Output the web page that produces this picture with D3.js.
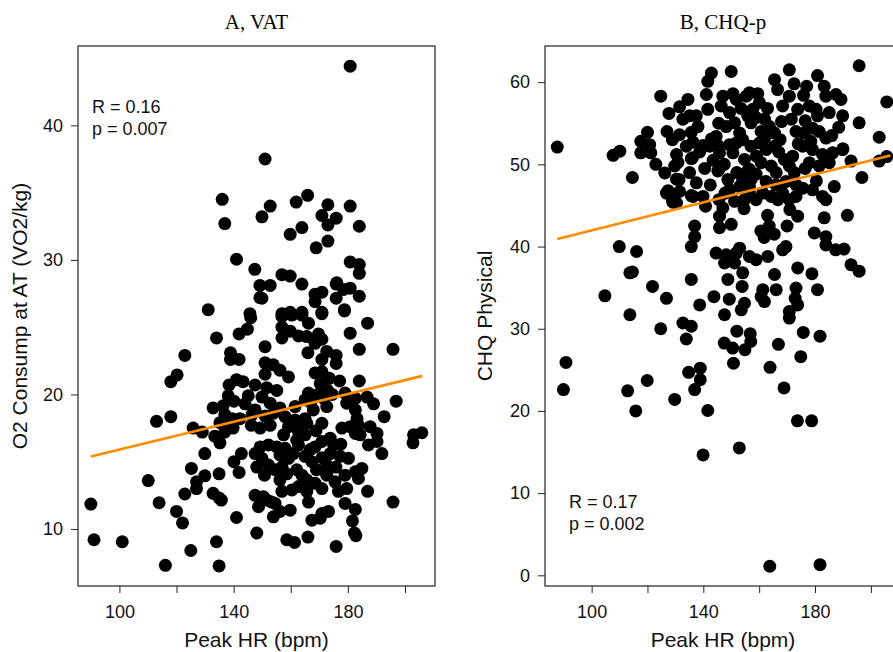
<!DOCTYPE html>
<html>
<head>
<meta charset="utf-8">
<script src="https://cdn.jsdelivr.net/npm/d3@7"></script>
<style>
  body { margin: 0; background: white; }
  svg { display: block; }
</style>
</head>
<body>
<script>
// ---- data: [peak HR, value] ----
var vatPoints = [
  [180.8,44.4],[151.0,37.5],[136.0,34.5],[136.9,32.7],[141.0,30.05],[147.4,29.3],[149.9,33.2],[149.2,28.1],[149.2,27.2],[131.1,26.3],[145.7,26.0],
  [165.9,34.8],[152.8,34.0],[161.9,34.3],[173.0,34.1],[180.8,34.0],[170.9,33.3],[175.9,33.1],[173.0,32.6],[184.0,32.5],[163.9,32.4],[159.8,31.9],
  [173.0,31.4],[168.9,30.9],[180.8,29.85],[184.0,29.65],[184.0,29.0],[156.9,28.9],[159.8,28.8],[163.9,28.2],[152.8,28.1],[175.9,28.2],[180.8,27.9],
  [168.5,27.45],[170.9,27.6],[175.9,27.15],[184.0,27.3],[149.9,27.15],[178.8,26.3],[170.9,26.1],[156.9,26.0],[159.8,26.1],[163.9,26.1],[168.5,26.9],
  [146.0,25.7],[144.8,24.85],[141.9,24.5],[134.0,24.2],[122.9,22.9],[138.9,23.1],[138.9,22.6],[141.9,22.6],[120.2,21.45],[118.0,20.95],[138.4,20.7],
  [141.0,21.1],[143.3,20.95],[138.1,19.9],[140.1,19.5],[145.1,19.9],[132.8,19.0],[136.3,19.15],[136.9,18.5],[139.5,18.2],[142.2,18.2],[146.4,18.5],
  [135.2,17.9],[138.1,17.7],[113.0,18.0],[118.0,18.35],[125.8,17.5],[129.0,17.2],[133.4,16.9],[136.9,17.2],[139.8,17.5],[146.2,17.7],[135.2,16.4],
  [129.9,15.6],[142.7,15.6],[140.1,15.0],[125.2,14.5],[141.9,14.2],[134.9,14.1],[129.9,13.95],[110.1,13.6],[127.0,13.5],[127.0,13.0],[132.8,12.65],
  [135.7,12.15],[134.9,12.3],[122.9,12.6],[113.9,11.95],[90.0,11.85],[120.0,11.3],[122.1,10.45],[141.0,10.85],[91.1,9.2],[101.0,9.05],[134.0,9.05],
  [125.0,8.4],[116.1,7.3],[134.9,7.25],
  [156.9,25.8],[160.4,25.9],[163.9,25.9],[170.9,26.0],[178.8,26.2],[156.9,25.0],[166.2,25.3],[159.8,24.7],[156.9,24.2],[162.7,24.35],[165.6,24.3],
  [169.7,24.5],[170.9,24.1],[168.5,23.8],[186.9,25.3],[180.8,24.55],[151.0,23.55],[184.0,23.35],[195.8,23.35],[166.0,23.1],[172.6,23.2],[175.9,22.9],
  [170.9,22.6],[175.9,22.3],[151.0,22.35],[153.9,22.2],[151.0,21.5],[156.2,21.8],[159.2,21.3],[168.5,21.6],[170.9,21.7],[173.5,21.2],[170.3,20.8],
  [172.9,20.3],[169.5,20.0],[171.5,19.7],[174.5,20.0],[177.1,21.0],[184.0,21.0],[179.0,20.1],[147.5,20.7],[151.6,20.5],[155.1,20.3],[166.2,20.1],
  [165.0,19.6],[149.9,19.8],[152.8,19.35],[156.2,19.0],[161.5,19.1],[182.6,19.7],[186.7,19.8],[189.0,19.3],[196.9,19.5],[182.6,18.85],[192.7,18.35],
  [172.6,19.1],[167.9,18.85],[147.5,18.85],[151.0,18.4],[158.0,18.35],[161.5,18.1],[165.0,18.2],[160.4,17.7],[163.9,17.6],[165.6,17.85],[170.9,17.85],
  [183.2,18.2],[183.7,17.7],[177.9,17.5],[180.8,17.6],[182.6,17.1],[184.3,17.0],[187.8,17.6],[190.2,17.1],[190.2,16.5],[187.2,16.25],[203.0,17.0],
  [205.9,17.15],[202.8,16.4],[191.9,15.6],[152.8,17.7],[149.3,17.5],[159.2,17.6],[162.7,17.2],[162.1,16.6],[165.0,17.0],[162.7,16.25],[173.8,16.75],
  [170.9,16.5],[175.0,16.25],[168.5,16.1],[166.8,15.9],[149.3,16.1],[152.2,16.25],[155.1,16.1],[158.0,16.0],[160.9,15.6],[159.2,15.25],[156.2,15.5],
  [165.0,15.4],[167.4,15.0],[173.8,15.6],[172.6,14.75],[177.3,15.4],[180.2,15.25],[147.5,15.6],[149.9,15.25],[148.1,14.6],[152.2,14.75],[154.5,14.4],
  [156.9,14.6],[158.6,14.1],[162.1,14.4],[163.9,14.0],[165.6,13.65],[166.8,13.4],[172.6,14.0],[175.5,13.5],[179.0,14.0],[182.6,14.25],[184.9,14.5],
  [183.7,13.75],[179.6,13.0],[176.7,12.8],[170.9,13.0],[168.5,13.4],[186.9,12.8],[156.2,13.65],[156.9,12.8],[160.4,12.9],[162.7,13.15],[147.5,12.5],
  [150.4,12.4],[153.3,12.0],[148.7,11.65],[151.6,12.15],[154.5,11.9],[153.9,10.9],[156.2,11.3],[159.8,11.4],[165.6,12.8],[166.2,12.0],[167.4,10.65],
  [170.3,10.8],[173.2,11.3],[170.9,11.15],[179.0,11.9],[182.6,11.45],[181.6,10.6],[182.3,9.7],[182.8,9.5],[195.8,12.0],[148.1,9.7],[158.6,9.2],
  [161.3,9.0],[166.0,9.4],[175.9,8.7],[179.6,19.35],[176.1,28.3],[178.5,27.8],
  [169.0,14.4],[171.0,15.3],[175.8,14.6],[177.5,16.3],[168.8,17.3],[167.0,19.4],[157.5,17.0],[154.0,18.6],[144.0,19.3],[150.8,14.0]
];

var chqPoints = [
  [87.7,52.1],[107.7,51.1],[110.1,51.6],[114.6,48.4],[117.6,52.8],[120.0,53.9],[117.6,51.4],[120.8,52.4],[121.2,51.4],[123.0,50.0],[126.2,48.95],
  [124.75,58.3],[127.7,56.2],[127.0,54.0],[128.9,53.0],[130.4,51.2],[129.75,49.8],[131.3,48.15],[126.8,46.5],[128.9,45.7],[131.5,46.7],[130.4,45.3],
  [131.5,57.0],[134.5,57.9],[132.7,55.5],[135.1,55.9],[137.5,55.9],[138.1,54.6],[133.9,52.2],[136.1,50.8],[135.1,49.0],[137.5,47.75],[136.3,46.1],
  [139.9,46.1],[140.8,44.9],[135.7,53.9],[131.5,53.6],[136.3,52.7],[139.9,52.3],[142.9,53.1],[145.2,52.3],[130.9,50.25],[135.7,50.7],[138.7,51.5],
  [130.4,48.2],[127.4,46.8],[129.1,45.4],[135.7,46.2],[145.2,49.2],[136.9,42.5],[136.9,41.2],[135.7,40.0],
  [142.9,61.1],[141.6,60.1],[141.1,58.5],[141.6,56.7],[144.6,53.4],[142.25,52.2],[145.8,51.4],[145.6,49.4],[149.4,52.4],[150.6,51.4],[148.8,48.15],
  [149.4,46.9],[151.2,45.5],[145.6,45.7],[145.8,43.7],[145.8,42.3],[150.0,42.7],[147.0,44.7],[150.0,61.3],[150.6,58.6],
  [147.0,58.3],[146.4,57.1],[149.4,56.3],[151.2,55.05],[148.2,54.6],[151.8,57.9],[153.0,53.8],[154.1,53.0],[151.8,52.6],
  [154.75,50.6],[155.9,49.2],[157.1,48.15],[154.1,48.15],[154.75,45.7],[153.0,47.3],[156.5,46.5],
  [155.4,58.3],[156.5,58.7],[159.5,58.6],[160.1,57.5],[157.7,56.7],[155.9,55.9],[158.9,55.7],[161.9,55.5],[157.1,55.05],[160.7,54.0],[163.7,54.6],
  [165.5,53.8],[157.1,52.2],[160.1,52.6],[162.5,51.8],[165.5,52.2],[156.5,49.4],[160.7,50.2],[164.3,49.8],[158.9,48.8],[162.5,47.9],[156.5,47.3],
  [161.3,46.5],[164.3,46.1],[158.9,45.7],[166.7,45.7],[168.4,46.5],[170.8,45.7],[173.2,46.1],[166.1,49.0],[169.0,50.6],[172.0,51.0],[170.8,49.8],
  [172.6,49.0],[169.6,47.9],[173.2,47.5],
  [165.5,60.3],[166.6,59.1],[170.8,61.5],[170.8,58.3],[175.9,58.4],[168.4,57.1],[173.8,56.7],[178.0,57.1],[180.4,56.7],[180.9,60.8],[183.3,59.5],
  [183.9,58.3],[187.5,58.5],[189.3,57.9],[189.9,55.9],[185.1,56.3],[180.9,55.9],
  [189.9,51.8],[192.9,50.4],[196.8,48.4],[195.8,55.05],[203.0,53.3],[205.7,57.6],[203.0,50.4],[205.7,50.95],[195.8,62.0],[190.0,51.9],
  [191.6,43.8],[192.9,37.8],[195.8,37.0],[187.4,39.6],[190.4,39.7],
  [173.2,54.0],[176.2,53.8],[179.1,54.4],[181.5,54.0],[183.9,53.2],[175.6,52.2],[179.1,51.8],[182.7,51.2],[186.3,51.4],[178.0,50.2],[181.5,49.8],
  [185.1,50.2],[186.9,47.3],[182.7,46.1],[179.1,46.9],[175.6,47.1],[183.9,45.7],[183.3,43.5],[179.75,41.65],[183.9,41.2],[183.9,40.2],[173.8,43.7],
  [170.0,42.5],[169.6,40.0],[168.4,39.6],[173.8,37.4],[178.9,36.7],[180.9,34.75],[173.2,34.95],[172.9,33.7],[173.8,32.9],[170.8,32.1],[170.8,31.3],
  [165.5,36.6],[166.1,34.75],[161.3,34.75],[161.9,33.3],[160.7,33.9],
  [163.0,43.8],[163.6,42.5],[165.4,41.5],[161.8,41.1],[160.6,41.9],[154.6,44.6],[149.3,33.6],
  [144.6,39.2],[148.2,39.0],[151.8,39.2],[153.0,39.8],[147.6,38.0],[151.2,38.0],[148.8,36.0],[154.1,36.8],[156.5,38.8],[158.9,38.4],[163.1,38.8],
  [153.9,35.15],[154.75,33.1],[153.6,32.3],[147.6,31.7],[143.8,33.9],[135.7,36.0],[138.7,32.9],
  [109.9,40.0],[116.1,39.4],[113.7,36.8],[114.6,36.9],[121.8,35.15],[126.8,33.7],[104.75,34.0],[113.7,31.7],[124.75,30.0],
  [132.7,30.7],[135.7,30.3],[133.9,28.75],[90.8,25.9],[89.9,22.6],[112.9,22.45],[119.9,23.7],[115.8,20.0],[134.75,24.7],[138.9,25.2],[138.9,23.8],
  [136.9,22.6],[129.75,21.4],[141.6,20.05],[139.9,14.65],
  [152.0,29.7],[156.8,29.4],[157.0,28.45],[147.5,28.25],[150.5,27.65],[154.9,27.45],[150.8,25.8],[166.9,28.1],[163.9,25.3],[175.8,29.55],[181.8,29.1],
  [174.9,26.6],[168.9,22.8],[173.7,18.8],[178.8,18.8],[152.9,15.5],[163.8,1.1],[181.8,1.3],
  [162.0,53.2],[167.5,53.0],[168.0,55.2],[171.5,55.5],[176.5,55.3],[178.5,52.8],[174.0,52.5],[167.0,51.5],[163.0,56.8],[153.5,56.8],[145.5,55.0],
  [143.5,50.5],[140.5,49.5],[147.5,50.0],[152.0,49.0],[159.0,51.0],[176.5,49.5],[180.5,48.0],[186.0,53.5],[188.5,54.5],[177.0,59.5],[172.5,59.8],
  [142.5,47.5],[147.8,46.5],[166.0,47.5],[171.0,44.5]
];

// fitted lines, endpoints
var vatFit = [[90.0, 15.38], [206.1, 21.38]];
var chqFit = [[87.7, 40.93], [207.0, 51.07]];

var vatStats = ['R = 0.16', 'p = 0.007'];
var chqStats = ['R = 0.17', 'p = 0.002'];

var hrTicks = [100, 120, 140, 160, 180, 200];
var hrLabels = [100, 140, 180];
var vatTicks = [10, 20, 30, 40];
var chqTicks = [0, 10, 20, 30, 40, 50, 60];

var svgWidth = 893, svgHeight = 652;
var sansFont = '"Liberation Sans", Arial, sans-serif';
var serifFont = '"Liberation Serif", "Times New Roman", serif';
var lineColor = '#ff8c00';

var svg = d3.select('body').append('svg')
  .attr('width', svgWidth)
  .attr('height', svgHeight);

function drawPanel(p) {
  var g = svg.append('g');

  var x = d3.scaleLinear().domain(p.xDomain).range([p.left, p.right]);
  var y = d3.scaleLinear().domain(p.yDomain).range([p.bottom, p.top]);

  // bottom axis, only some ticks labelled
  var xAxis = d3.axisBottom(x)
    .tickValues(hrTicks)
    .tickSize(7)
    .tickPadding(12)
    .tickFormat(function(d) { return hrLabels.includes(d) ? d : ''; });
  g.append('g')
    .attr('transform', 'translate(0,' + p.bottom + ')')
    .call(xAxis)
    .call(function(a) { a.select('.domain').remove(); });

  var yAxis = d3.axisLeft(y)
    .tickValues(p.yTicks)
    .tickSize(7)
    .tickPadding(8);
  g.append('g')
    .attr('transform', 'translate(' + p.left + ',0)')
    .call(yAxis)
    .call(function(a) { a.select('.domain').remove(); });

  g.selectAll('.tick line').attr('stroke', '#222');
  g.selectAll('.tick text')
    .attr('fill', '#111')
    .style('font-family', sansFont)
    .style('font-size', '18px');

  // frame
  g.append('rect')
    .attr('x', p.left)
    .attr('y', p.top)
    .attr('width', p.right - p.left)
    .attr('height', p.bottom - p.top)
    .attr('fill', 'none')
    .attr('stroke', '#222')
    .attr('stroke-width', 1.2);

  // points
  g.selectAll('.pt')
    .data(p.points)
    .enter()
    .append('circle')
    .attr('cx', function(d) { return x(d[0]); })
    .attr('cy', function(d) { return y(d[1]); })
    .attr('r', 6.5)
    .attr('fill', 'black');

  // regression line
  g.append('path')
    .datum(p.fit)
    .attr('d', d3.line().x(function(d) { return x(d[0]); }).y(function(d) { return y(d[1]); }))
    .attr('stroke', lineColor)
    .attr('stroke-width', 2.6)
    .attr('fill', 'none');

  // stats
  g.selectAll('.stat')
    .data(p.stats)
    .enter()
    .append('text')
    .text(function(d) { return d; })
    .attr('x', p.statX)
    .attr('y', function(d, i) { return p.statY + i * 22.6; })
    .attr('fill', '#111')
    .style('font-family', sansFont)
    .style('font-size', '18px');

  // titles
  g.append('text')
    .text(p.title)
    .attr('x', (p.left + p.right) / 2)
    .attr('y', 29)
    .attr('text-anchor', 'middle')
    .style('font-family', serifFont)
    .style('font-size', '21px');

  g.append('text')
    .text('Peak HR (bpm)')
    .attr('x', (p.left + p.right) / 2)
    .attr('y', 647)
    .attr('text-anchor', 'middle')
    .attr('fill', '#111')
    .style('font-family', sansFont)
    .style('font-size', '21px');

  g.append('text')
    .text(p.yTitle)
    .attr('transform', 'translate(' + p.yTitleX + ',' + (p.top + p.bottom) / 2 + ')rotate(-90)')
    .attr('text-anchor', 'middle')
    .attr('fill', '#111')
    .style('font-family', sansFont)
    .style('font-size', '21px');
}

drawPanel({
  left: 78, right: 435, top: 46, bottom: 586,
  xDomain: [85.5, 210.5], yDomain: [5.76, 45.9],
  yTicks: vatTicks, points: vatPoints, fit: vatFit,
  stats: vatStats, statX: 92, statY: 112.7,
  title: 'A, VAT', yTitle: 'O2 Consump at AT (VO2/kg)', yTitleX: 27
});

drawPanel({
  left: 545, right: 901, top: 46, bottom: 586,
  xDomain: [83.3, 210.8], yDomain: [-1.3, 64.4],
  yTicks: chqTicks, points: chqPoints, fit: chqFit,
  stats: chqStats, statX: 569, statY: 507.7,
  title: 'B, CHQ-p', yTitle: 'CHQ Physical', yTitleX: 492
});
</script>
</body>
</html>
